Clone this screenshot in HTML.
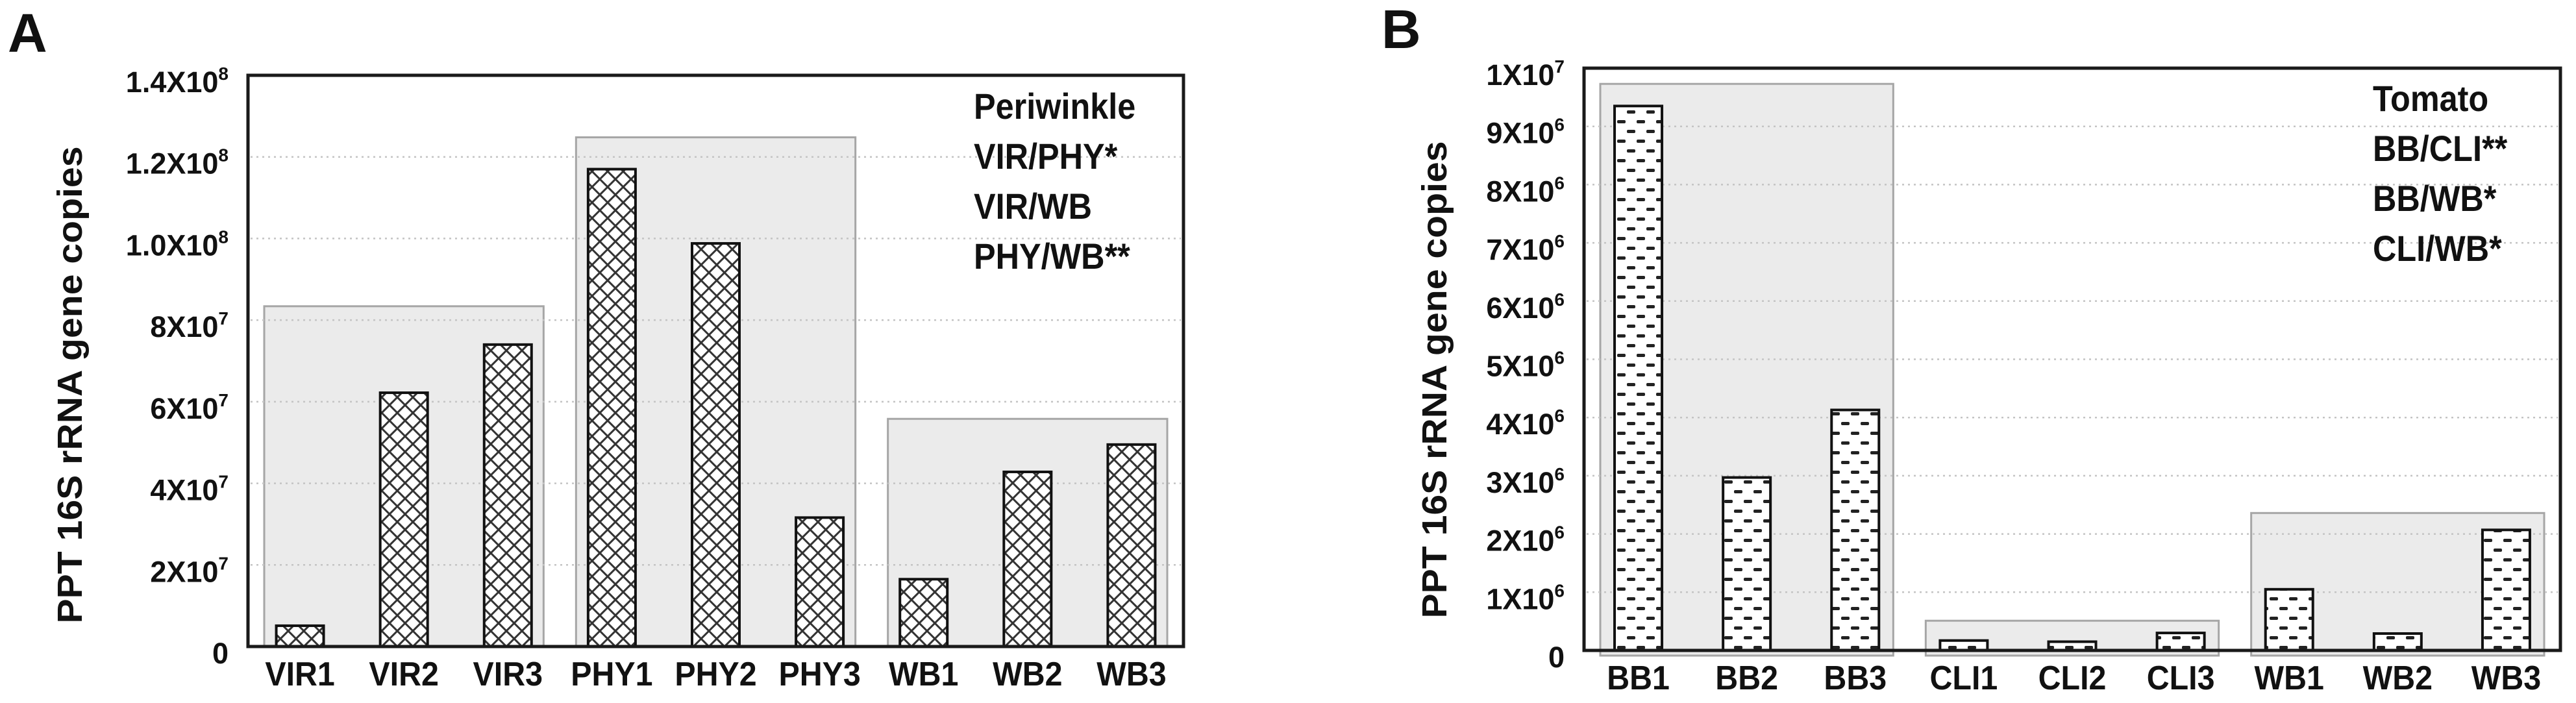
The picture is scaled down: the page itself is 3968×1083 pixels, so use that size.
<!DOCTYPE html>
<html><head><meta charset="utf-8">
<style>
html,body{margin:0;padding:0;background:#fff;}
svg{display:block;}
text{font-family:"Liberation Sans Narrow","Liberation Sans",sans-serif;font-weight:bold;fill:#111;}
.title{font-family:"Liberation Sans",sans-serif;}
</style></head>
<body>
<svg id="fig" width="3968" height="1083" viewBox="0 0 3968 1083" xmlns="http://www.w3.org/2000/svg">
<defs>
<pattern id="cross" width="24" height="24" patternUnits="userSpaceOnUse">
<rect width="24" height="24" fill="#fff"/>
<path d="M-6,-6 L30,30 M-6,18 L6,30 M18,-6 L30,6 M30,-6 L-6,30 M6,-6 L-6,6 M30,18 L18,30" stroke="#333" stroke-width="3"/>
</pattern>
<pattern id="dash" width="30" height="30" patternUnits="userSpaceOnUse">
<rect width="30" height="30" fill="#fff"/>
<rect x="1" y="5" width="13" height="5" rx="2" fill="#222"/>
<rect x="16" y="20" width="13" height="5" rx="2" fill="#222"/>
</pattern>
</defs>
</svg>
<script>
// ---- Panel A data ----
const catsA = ["VIR1","VIR2","VIR3","PHY1","PHY2","PHY3","WB1","WB2","WB3"];
const valsA = [5.1e6, 6.22e7, 7.4e7, 1.17e8, 9.88e7, 3.16e7, 1.65e7, 4.28e7, 4.95e7];
const groupsA = ["VIR","PHY","WB"];
const groupTopsA = [8.34e7, 1.248e8, 5.58e7];
const tickValsA = [0, 2e7, 4e7, 6e7, 8e7, 1e8, 1.2e8, 1.4e8];
const tickMantA = ["0","2X10","4X10","6X10","8X10","1.0X10","1.2X10","1.4X10"];
const tickExpA = ["","7","7","7","7","8","8","8"];
const notesA = ["Periwinkle","VIR/PHY*","VIR/WB","PHY/WB**"];
// ---- Panel B data ----
const catsB = ["BB1","BB2","BB3","CLI1","CLI2","CLI3","WB1","WB2","WB3"];
const valsB = [9.35e6, 2.97e6, 4.13e6, 1.7e5, 1.5e5, 3.0e5, 1.05e6, 2.9e5, 2.07e6];
const groupsB = ["BB","CLI","WB"];
const groupTopsB = [9.73e6, 5.1e5, 2.36e6];
const tickValsB = [0,1e6,2e6,3e6,4e6,5e6,6e6,7e6,8e6,9e6,1e7];
const tickMantB = ["0","1X10","2X10","3X10","4X10","5X10","6X10","7X10","8X10","9X10","1X10"];
const tickExpB = ["","6","6","6","6","6","6","6","6","6","7"];
const notesB = ["Tomato","BB/CLI**","BB/WB*","CLI/WB*"];

const NS = "http://www.w3.org/2000/svg";
const svg = document.getElementById("fig");
function mk(tag, attrs, parent){
  const e = document.createElementNS(NS, tag);
  for (const k in attrs) e.setAttribute(k, attrs[k]);
  (parent||svg).appendChild(e);
  return e;
}
function ctext(parent, x, y, anchor, size, sx){
  return mk("text", {x:0, y:0, "text-anchor":anchor, "font-size":size, transform:"translate(" + x + "," + y + ") scale(" + sx + ",1)"}, parent);
}

function panel(cfg){
  const g = mk("g", {});
  
  
  const L = cfg.left, R = cfg.right, T = cfg.top, B = cfg.zero;
  const maxV = cfg.ticks[cfg.ticks.length-1];
  const y = v => B - (v / maxV) * (B - T);
  const band = (R - L) / cfg.cats.length;
  const xc = i => L + band * (i + 0.5);

  cfg.groups.forEach((name, gi) => {
    const x0 = L + band * gi * 3 + 25, x1 = L + band * (gi * 3 + 3) - 25;
    const r = mk("rect", {x:x0, y:y(cfg.groupTops[gi]), width:x1-x0, height:B + cfg.boxExtra - y(cfg.groupTops[gi]), fill:"#ebebeb", stroke:"#a6a6a6", "stroke-width":3}, g);
    
    
  });
  cfg.ticks.forEach((v, i) => {
    if (i === 0 || i === cfg.ticks.length-1) return;
    const l = mk("line", {x1:L+4, x2:R-4, y1:y(v), y2:y(v), stroke:"#c4c4c4", "stroke-width":2.5, "stroke-dasharray":"3 6"}, g);
    
    
  });
  cfg.vals.forEach((v, i) => {
    const w = 73;
    const r = mk("rect", {x:xc(i)-w/2, y:y(v), width:w, height:B - y(v), fill:"url(#" + cfg.pattern + ")", stroke:"#111", "stroke-width":4}, g);
    
    
  });
  const f = mk("rect", {x:L, y:T, width:R-L, height:B-T, fill:"none", stroke:"#1a1a1a", "stroke-width":5}, g);
  
  
  cfg.cats.forEach((c, i) => {
    const t = ctext(g, xc(i), B + 60, "middle", 52, 0.93);
    t.textContent = c;
    
    
  });
  cfg.ticks.forEach((v, i) => {
    const t = ctext(g, L - 30, y(v) + 26, "end", 45, 1.0);
    
    
    const m = mk("tspan", {}, t); m.textContent = cfg.mant[i];
    if (cfg.exp[i]) { const s = mk("tspan", {dy:-19, "font-size":28}, t); s.textContent = cfg.exp[i]; }
  });
  const yt = mk("text", {class:"title", x:0, y:0, "text-anchor":"middle", "font-size":54, textLength:735, lengthAdjust:"spacingAndGlyphs", transform:"translate(" + cfg.titleX + "," + cfg.titleY + ") rotate(-90)"}, g);
  yt.textContent = "PPT 16S rRNA gene copies";
  
  
  cfg.notes.forEach((n, i) => {
    const t = ctext(g, cfg.noteX, cfg.noteY + i * 77, "start", 56, 0.9);
    t.textContent = n;
    
    
  });
  const pl = mk("text", {class:"title", x:cfg.letterX, y:cfg.letterY, "font-size":84}, g);
  pl.textContent = cfg.letter;
  
  
}

panel({id:"panel-a", left:382, right:1823, top:116, zero:996, boxExtra:0,
  cats:catsA, vals:valsA, groups:groupsA, groupTops:groupTopsA,
  ticks:tickValsA, mant:tickMantA, exp:tickExpA, pattern:"cross",
  titleX:126, titleY:593, notes:notesA, noteX:1500, noteY:183,
  letter:"A", letterX:12, letterY:80});
panel({id:"panel-b", left:2440, right:3944, top:105, zero:1002, boxExtra:8,
  cats:catsB, vals:valsB, groups:groupsB, groupTops:groupTopsB,
  ticks:tickValsB, mant:tickMantB, exp:tickExpB, pattern:"dash",
  titleX:2228, titleY:585, notes:notesB, noteX:3655, noteY:171,
  letter:"B", letterX:2128, letterY:74});
</script>
</body></html>
